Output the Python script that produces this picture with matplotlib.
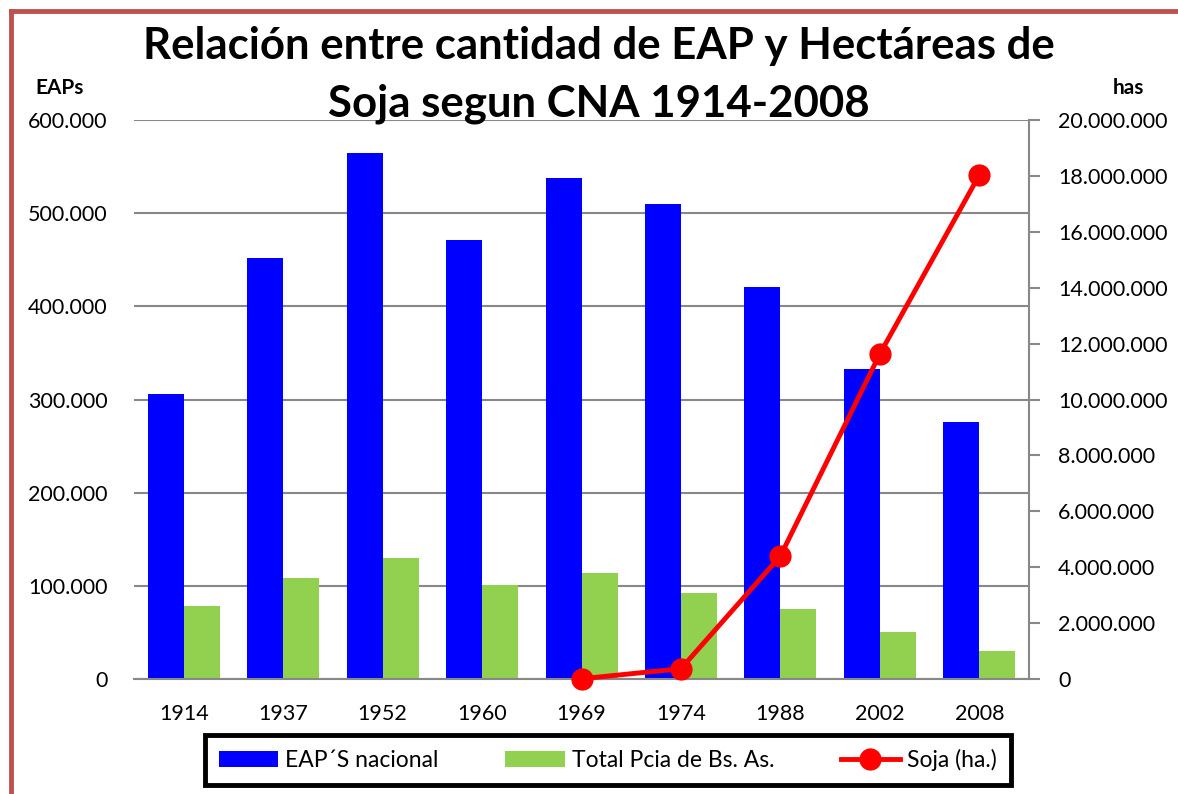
import matplotlib.pyplot as plt
import numpy as np
from matplotlib.lines import Line2D
from matplotlib.ticker import FuncFormatter

# Data
years = ['1914', '1937', '1952', '1960', '1969', '1974', '1988', '2002', '2008']
eap_nacional = [306000, 452000, 565000, 471000, 538000, 510000, 421000, 333000, 276000]
eap_bsas = [78000, 108000, 130000, 101000, 114000, 92000, 75000, 50000, 30000]
soja_ha = [None, None, None, None, 10000, 370000, 4400000, 11630000, 18030000]

plt.rcParams['font.family'] = ['Lato', 'DejaVu Sans']

blue = '#0000FF'
green = '#92D050'
red = '#FF0000'
grid_gray = '#888888'


def miles(v, pos):
    return '{:,.0f}'.format(v).replace(',', '.')


fig = plt.figure(figsize=(11.78, 7.94), dpi=100)
ax = fig.add_axes([0.1138, 0.1448, 0.7597, 0.7040])

x = np.arange(len(years))
w = 0.362
ax.bar(x - w / 2, eap_nacional, width=w, color=blue, label='EAP´S nacional', zorder=2)
ax.bar(x + w / 2, eap_bsas, width=w, color=green, label='Total Pcia de Bs. As.', zorder=2)

ax.set_xlim(-0.5, len(years) - 0.5)
ax.set_ylim(0, 600000)
ax.set_yticks(np.arange(0, 600001, 100000))
ax.yaxis.set_major_formatter(FuncFormatter(miles))
ax.set_xticks(x)
ax.set_xticklabels(years)
ax.grid(axis='y', color=grid_gray, linewidth=1.5, zorder=0)
ax.set_axisbelow(True)
for s in ['left', 'top', 'right']:
    ax.spines[s].set_visible(False)
ax.spines['bottom'].set_color(grid_gray)
ax.spines['bottom'].set_linewidth(1.5)
ax.tick_params(axis='both', length=0, labelsize=15.5, colors='black')
ax.tick_params(axis='y', pad=19)
ax.tick_params(axis='x', pad=18)

ax2 = ax.twinx()
sx = [i for i, v in enumerate(soja_ha) if v is not None]
sy = [v for v in soja_ha if v is not None]
ax2.plot(sx, sy, color=red, linewidth=3.5, marker='o', markersize=15,
         label='Soja (ha.)', zorder=4, clip_on=False)
ax2.set_ylim(0, 20000000)
ax2.set_yticks(np.arange(0, 20000001, 2000000))
ax2.yaxis.set_major_formatter(FuncFormatter(miles))
for s in ['left', 'top', 'bottom']:
    ax2.spines[s].set_visible(False)
ax2.spines['right'].set_color(grid_gray)
ax2.spines['right'].set_linewidth(1.5)
ax2.tick_params(axis='y', length=8, width=1.5, color=grid_gray,
                labelsize=15.5, pad=13, direction='out')

fig.text(0.5085, 1 - 59 / 794, 'Relación entre cantidad de EAP y Hectáreas de',
         ha='center', va='baseline', fontsize=31.5, fontweight='bold')
fig.text(0.5085, 1 - 117 / 794, 'Soja segun CNA 1914-2008',
         ha='center', va='baseline', fontsize=31.5, fontweight='bold')
fig.text(60 / 1178, 1 - 88 / 794, 'EAPs', ha='center', va='center', fontsize=15, fontweight='bold')
fig.text(1128 / 1178, 1 - 88 / 794, 'has', ha='center', va='center', fontsize=15, fontweight='bold')

h1, l1 = ax.get_legend_handles_labels()
h2, l2 = ax2.get_legend_handles_labels()
leg = fig.legend(h1 + h2, l1 + l2, loc='center', bbox_to_anchor=(0.516, 0.043),
                 ncol=3, fontsize=16.5, frameon=True, fancybox=False, framealpha=1,
                 handlelength=2.6, handletextpad=0.3, columnspacing=2.9,
                 borderpad=0.6)
leg.get_frame().set_edgecolor('black')
leg.get_frame().set_linewidth(3.5)

# outer chart border (only the left and top edges are inside the picture)
border = '#C0504D'
fig.add_artist(Line2D([10.5 / 1178, 10.5 / 1178], [0, 1 - 10.5 / 794],
                      transform=fig.transFigure, color=border, linewidth=3.5))
fig.add_artist(Line2D([10.5 / 1178, 1], [1 - 10.5 / 794, 1 - 10.5 / 794],
                      transform=fig.transFigure, color=border, linewidth=3.5))

fig.savefig('out.png', dpi=100)
